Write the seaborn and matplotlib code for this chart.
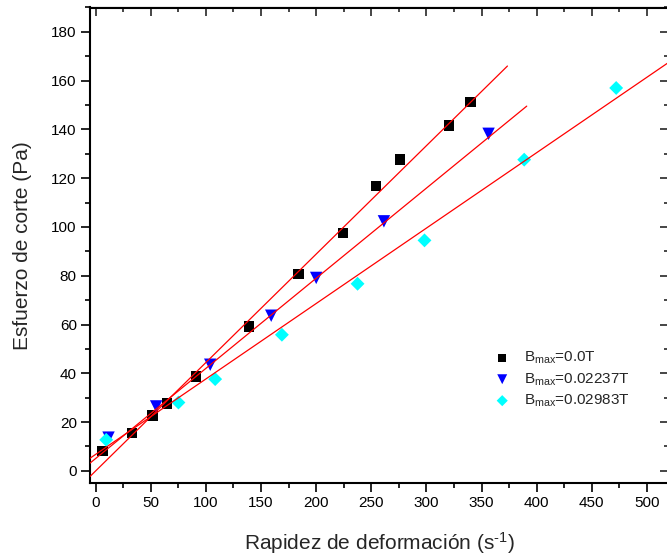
import numpy as np
import matplotlib
matplotlib.use('Agg')
import matplotlib.pyplot as plt
import seaborn as sns
from matplotlib.ticker import MultipleLocator

# data
x_b0 = [6.3, 33, 51.8, 64.7, 91.3, 139.4, 184, 224.3, 254.5, 276, 320.4, 340]
y_b0 = [8.2, 15.5, 22.7, 27.6, 38.7, 59.2, 80.8, 97.5, 116.7, 127.7, 141.6, 151.3]

x_b1 = [11.8, 55, 104, 159.3, 200.1, 261.5, 356.4]
y_b1 = [13.6, 26.4, 43.5, 63.6, 79.1, 102.3, 138.2]

x_b2 = [9.7, 75.2, 108.5, 169, 237.6, 298.3, 388.7, 472.1]
y_b2 = [12.7, 28, 37.6, 55.8, 76.7, 94.5, 127.6, 157]

labels = [r'B$_{\mathrm{max}}$=0.0T', r'B$_{\mathrm{max}}$=0.02237T', r'B$_{\mathrm{max}}$=0.02983T']

# linear fits as drawn (intercept, slope, x end)
fit_intercept = [-0.1, 5.0, 6.7]
fit_slope = [0.4447, 0.3697, 0.3094]
fit_xend = [373.5, 391, 530]

sns.set_style('white')
plt.rcParams['font.family'] = ['Liberation Sans', 'DejaVu Sans']
plt.rcParams['mathtext.fontset'] = 'custom'
plt.rcParams['mathtext.rm'] = 'Liberation Sans'
plt.rcParams['mathtext.it'] = 'Liberation Sans:italic'

fig = plt.figure(figsize=(6.67, 5.59), dpi=100)
ax = fig.add_axes([90 / 667, 1 - 483 / 559, (669 - 90) / 667, (483 - 7.5) / 559])

for i in range(3):
    xs = np.array([-5, fit_xend[i]])
    ax.plot(xs, fit_intercept[i] + fit_slope[i] * xs, color='red', lw=0.9, zorder=3)

sns.scatterplot(x=x_b0, y=y_b0, marker='s', color='black', s=55, edgecolor='none', label=labels[0], ax=ax, zorder=2)
sns.scatterplot(x=x_b1, y=y_b1, marker='v', color='blue', s=80, edgecolor='none', label=labels[1], ax=ax, zorder=2)
sns.scatterplot(x=x_b2, y=y_b2, marker='D', color='cyan', s=50, edgecolor='none', label=labels[2], ax=ax, zorder=2)

ax.set_xlim(-5, 520)
ax.set_ylim(-5, 190)
ax.xaxis.set_major_locator(MultipleLocator(50))
ax.xaxis.set_minor_locator(MultipleLocator(25))
ax.yaxis.set_major_locator(MultipleLocator(20))
ax.yaxis.set_minor_locator(MultipleLocator(10))

for sp in ax.spines.values():
    sp.set_linewidth(1.5)
    sp.set_color('black')

ax.tick_params(which='both', direction='out', bottom=True, left=True, top=False, right=False,
               labelsize=11, width=1.2, colors='black', pad=3)
ax.tick_params(which='major', length=6.5)
ax.tick_params(which='minor', length=3.5)

# inward ticks on top and right
ax_t = ax.secondary_xaxis('top')
ax_t.xaxis.set_major_locator(MultipleLocator(50))
ax_t.xaxis.set_minor_locator(MultipleLocator(25))
ax_t.tick_params(which='both', direction='in', labeltop=False, width=1.2)
ax_t.tick_params(which='major', length=6.5)
ax_t.tick_params(which='minor', length=3.5)
ax_r = ax.secondary_yaxis('right')
ax_r.yaxis.set_major_locator(MultipleLocator(20))
ax_r.yaxis.set_minor_locator(MultipleLocator(10))
ax_r.tick_params(which='both', direction='in', labelright=False, width=1.2)
ax_r.tick_params(which='major', length=6.5)
ax_r.tick_params(which='minor', length=3.5)

ax.set_xlabel(r'Rapidez de deformación (s$^{\text{-1}}$)', fontsize=15, labelpad=14)
ax.set_ylabel('Esfuerzo de corte (Pa)', fontsize=15, labelpad=14)

ax.legend(loc='upper left', bbox_to_anchor=(0.675, 0.293), frameon=False, fontsize=11,
          handletextpad=0.4, labelspacing=0.33, borderaxespad=0, markerscale=0.8)

fig.savefig('out.png', dpi=100)
